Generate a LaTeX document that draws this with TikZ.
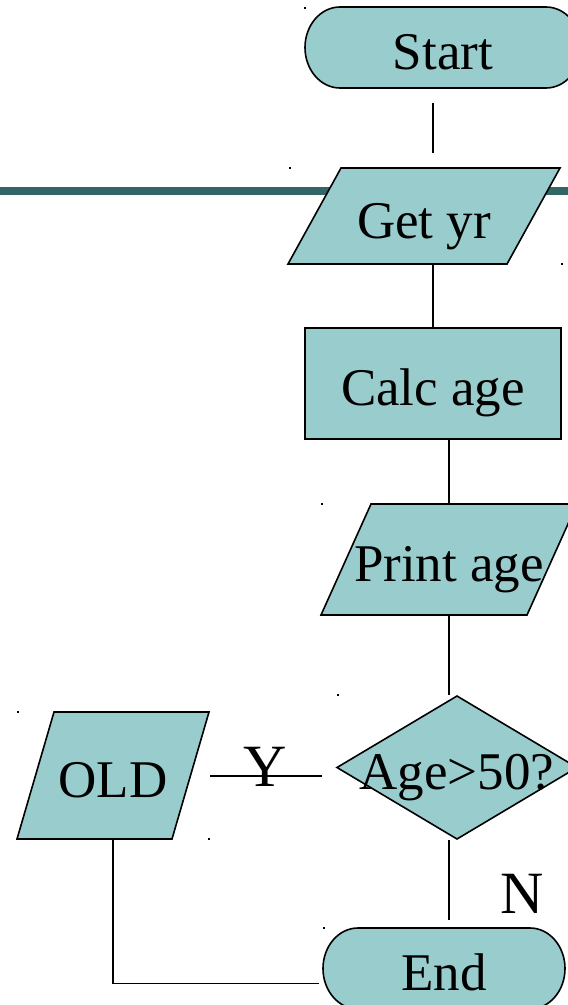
\documentclass[tikz,border=0pt]{standalone}
\usepackage{fontspec}
\setmainfont{Liberation Serif}
\usetikzlibrary{calc}
\pgfdeclarelayer{background}
\pgfsetlayers{background,main}
\definecolor{boxfill}{HTML}{99CCCC}
\definecolor{bandteal}{HTML}{336666}

% outline of a terminal (start/end) around a node
\newcommand\terminalpath[1]{%
  \path[outline] ($(#1.north west)+(35,0)$) -- ($(#1.north east)+(-35,0)$)
    arc[start angle=-90,end angle=90,x radius=35,y radius=40.5]
    -- ($(#1.south west)+(35,0)$)
    arc[start angle=90,end angle=270,x radius=35,y radius=40.5] -- cycle;}
% outline of an input/output parallelogram around a node
\newcommand\slantpath[2]{%
  \path[outline] (#1.south west) -- ($(#1.north west)+(#2,0)$)
    -- (#1.north east) -- ($(#1.south east)+(-#2,0)$) -- cycle;}

\begin{document}
\begin{tikzpicture}[x=1pt,y=-1pt,
  holder/.style={rectangle, inner sep=0pt, outer sep=0pt,
    font=\fontsize{53}{60}\selectfont, text height=44pt, text depth=0pt},
  outline/.style={fill=boxfill, draw=black, line width=1.6pt, line join=miter},
  link/.style={draw=black, line width=1.4pt},
  branch/.style={font=\fontsize{60}{66}\selectfont, inner sep=0pt},
  corner/.style={fill=black}
]
\useasboundingbox (0,0) rectangle (568,1005);

% text holders, sized to the outlines drawn behind them
\node[holder, minimum width=276pt, minimum height=81pt]  (start) at (443,47.5)  {Start};
\node[holder, minimum width=272pt, minimum height=96pt]  (getyr) at (424,216)   {Get yr};
\node[holder, minimum width=256pt, minimum height=111pt] (calc)  at (433,383.5) {Calc age};
\node[holder, minimum width=256pt, minimum height=111pt] (print) at (449,559.5) {Print age};
\node[holder, minimum width=240pt, minimum height=143pt] (test)  at (457,767.5) {Age>50?};
\node[holder, minimum width=192pt, minimum height=127pt] (old)   at (113,775.5) {OLD};
\node[holder, minimum width=242pt, minimum height=81pt]  (stop)  at (444,968.5) {End};

\begin{pgfonlayer}{background}
  \fill[bandteal] (0,187) rectangle (568,195);
  \terminalpath{start}
  \slantpath{getyr}{53}
  \path[outline] (calc.south west) rectangle (calc.north east);
  \slantpath{print}{50}
  \path[outline] (test.north) -- (test.east) -- (test.south) -- (test.west) -- cycle;
  \slantpath{old}{37}
  \terminalpath{stop}
\end{pgfonlayer}

% connectors
\draw[link, shorten <=15pt, shorten >=15pt] ([xshift=-10pt]start.south) -- ([xshift=9pt]getyr.north);
\draw[link] ([xshift=9pt]getyr.south) -- (calc.north);
\draw[link] ([xshift=16pt]calc.south) -- (print.north);
\draw[link, shorten >=1pt] (print.south) -- ([xshift=-8pt]test.north);
\draw[link, shorten <=1pt, shorten >=8pt] ([xshift=-8pt]test.south) -- ([xshift=5pt]stop.north);
\draw[link, shorten <=15pt, shorten >=1pt] ([yshift=-8.5pt]test.west) -- ([yshift=-0.5pt]old.east);
\draw[link, shorten >=4pt] (old.south) |- ([yshift=-15pt]stop.west);

% branch labels
\node[branch, anchor=base] (yes) at (265,786) {Y};
\node[branch, anchor=base] (no)  at (522,913) {N};

% small corner marks
\foreach \cx/\cy in {304/7, 289/167, 561/263, 321/503, 337/694, 17/711, 208/838, 323/927}
  \fill[corner] (\cx,\cy) rectangle ++(2,2);
\end{tikzpicture}
\end{document}
